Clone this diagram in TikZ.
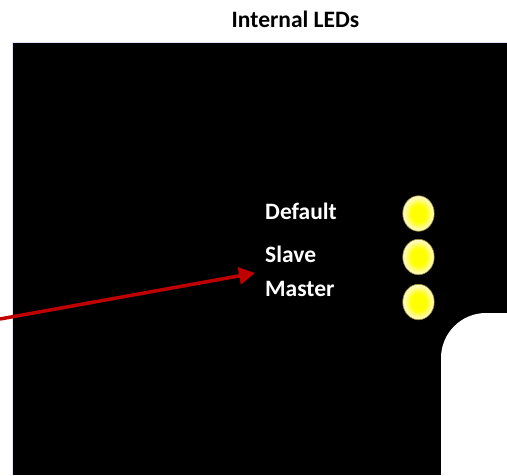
\documentclass[tikz,border=0pt]{standalone}
\usepackage{fontspec}
\setmainfont{Carlito}
\usetikzlibrary{shapes.geometric,arrows.meta}

\definecolor{arrowred}{RGB}{192,0,0}
\definecolor{ledrim}{RGB}{150,140,40}
\definecolor{ledpale}{RGB}{255,250,190}

\pgfdeclareradialshading{ledglow}{\pgfpoint{0bp}{0bp}}{%
    color(0bp)=(yellow); color(12bp)=(yellow); color(23bp)=(ledpale); color(25bp)=(ledpale); color(50bp)=(ledpale)}

\tikzset{
    led/.style={ellipse, draw=ledrim, line width=0.6pt, minimum width=31.5pt, minimum height=35.5pt,
        inner sep=0pt, shading=ledglow},
    ledlabel/.style={anchor=base west, inner sep=0pt, text=white, font=\bfseries\fontsize{23.5}{28}\selectfont},
}

\begin{document}
\begin{tikzpicture}[x=1pt, y=-1pt]

        \useasboundingbox (0, 0) rectangle (507, 475);

        % Board
        \fill[black] (12, 42) rectangle (507, 475);
        \draw[blue!12, line width=0.8pt] (12, 475) -- (12, 42) -- (507, 42);
        \fill[white] (441, 476) [rounded corners=45pt] -- (441, 313) [sharp corners] -- (508, 313) -- (508, 476) -- cycle;

        % Title
        \node (title) [anchor=base, inner sep=0pt, font=\bfseries\fontsize{23.5}{28}\selectfont] at (295.5, 27) {Internal LEDs};

        % Labels
        \node (default) [ledlabel] at (265, 219) {Default};
        \node (slave) [ledlabel] at (265, 262) {Slave};
        \node (master) [ledlabel] at (265, 296) {Master};

        % LEDs
        \node (led_default) [led] at (418.5, 213.5) {};
        \node (led_slave) [led] at (418.5, 257) {};
        \node (led_master) [led] at (418.5, 302) {};

        % Arrow
        \coordinate (from) at (0, 319);
        \coordinate (tip) at (255, 273);
        \draw[arrowred, line width=3.5pt, -{Triangle[length=16pt, width=17pt]}] (from) -- (tip);

    \end{tikzpicture}
\end{document}
